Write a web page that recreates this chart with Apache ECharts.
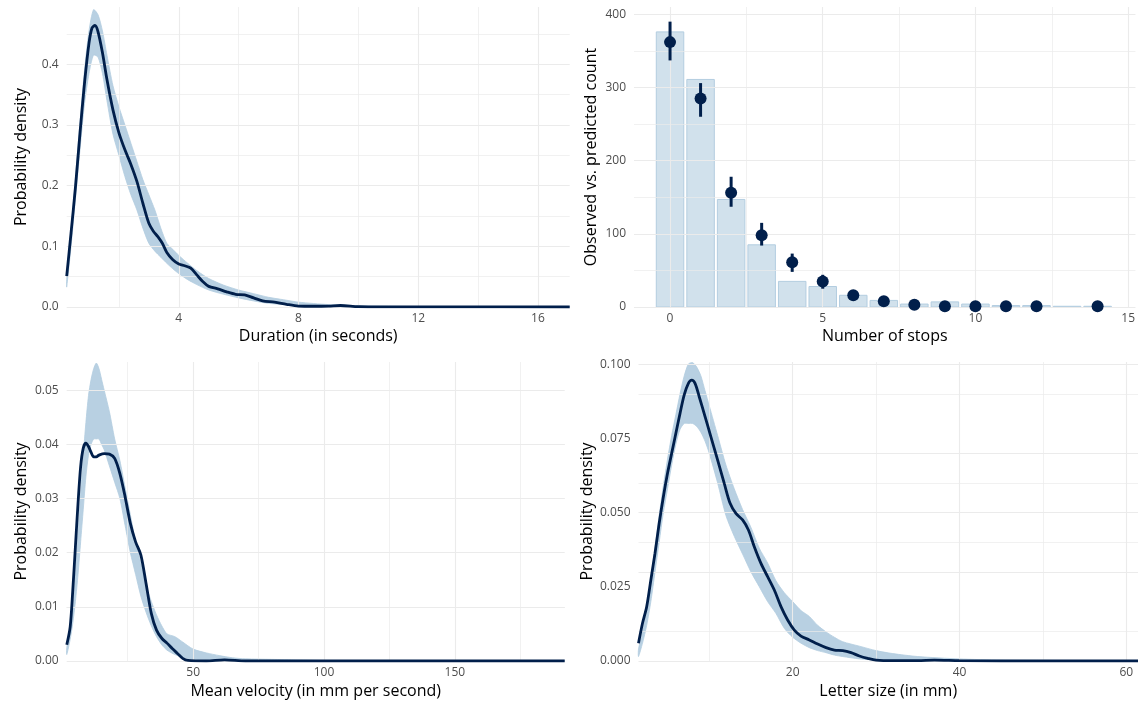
<!DOCTYPE html>
<html>
<head>
<meta charset="utf-8">
<script src="https://cdn.jsdelivr.net/npm/echarts@6/dist/echarts.min.js"></script>
<style>html,body{margin:0;padding:0;background:#fff}#c{width:1138px;height:702px}</style>
</head>
<body>
<div id="c"></div>
<script>
// ---------- Panel 1: Duration (in seconds) ----------
const durObsX = [0.255,0.4,0.55,0.7,0.85,1.0,1.1,1.2,1.3,1.45,1.6,1.8,2.0,2.2,2.4,2.6,2.8,3.0,3.15,3.3,3.45,3.6,3.8,4.0,4.2,4.4,4.6,4.8,5.0,5.3,5.6,5.9,6.2,6.5,6.8,7.2,7.6,8.0,8.5,9.0,9.4,10,11,13,17.06];
const durObsY = [0.051,0.122,0.199,0.287,0.369,0.435,0.46,0.464,0.454,0.419,0.375,0.325,0.287,0.259,0.235,0.207,0.171,0.138,0.125,0.116,0.105,0.090,0.078,0.071,0.068,0.064,0.053,0.042,0.034,0.030,0.025,0.021,0.020,0.015,0.010,0.008,0.0044,0.0016,0.0012,0.0015,0.0025,0.0006,0.0002,0.0001,0];
const durRepX  = [0.255,0.4,0.55,0.7,0.85,1.0,1.15,1.3,1.45,1.6,1.8,2.0,2.2,2.4,2.6,2.8,3.0,3.2,3.4,3.6,3.8,4.0,4.3,4.6,5.0,5.5,6.0,6.5,7.0,7.5,8.0,9.0,10,12,17.06];
const durRepHi = [0.045,0.125,0.215,0.305,0.39,0.455,0.49,0.482,0.455,0.415,0.365,0.33,0.30,0.27,0.24,0.21,0.185,0.16,0.13,0.105,0.095,0.085,0.072,0.06,0.047,0.036,0.028,0.022,0.016,0.012,0.008,0.004,0.002,0.0008,0.0002];
const durRepLo = [0.033,0.10,0.18,0.26,0.335,0.385,0.415,0.412,0.385,0.34,0.285,0.25,0.215,0.185,0.16,0.13,0.105,0.092,0.082,0.072,0.063,0.055,0.045,0.037,0.028,0.021,0.015,0.010,0.006,0.004,0.002,0.0005,0.0001,0,0];
const durXTicks = [4,8,12,16];
const durXMinor = [2,6,10,14];
const durYTicks = [0,0.1,0.2,0.3,0.4];
const durYMinor = [0.05,0.15,0.25,0.35,0.45];

// ---------- Panel 2: Number of stops ----------
const stopsX   = [0,1,2,3,4,5,6,7,8,9,10,11,12,13,14];
const stopsObs = [376,311,147,85,35,28,16,9,4,7,4,2,2,1,1];
const predX    = [0,1,2,3,4,5,6,7,8,9,10,11,12,14];
const predMed  = [362,285,156,98,61,35,16,8,3,1,1,1,1,1];
const predLo   = [337,260,137,84,48,25,10,4,1,0,0,0,0,0];
const predHi   = [390,306,178,115,73,44,22,13,7,3,3,3,3,3];
const stopsXTicks = [0,5,10,15];
const stopsXMinor = [2.5,7.5,12.5];
const stopsYTicks = [0,100,200,300,400];
const stopsYMinor = [50,150,250,350];

// ---------- Panel 3: Mean velocity ----------
const velObsX = [1.7,3,4,5,6,7,8,9,10,11,12,13,14,16,18,20,22,24,26,28,30,32,34,36,38,40,42,44,46,48,55,62,70,192];
const velObsY = [0.003,0.0063,0.0131,0.0211,0.0291,0.0359,0.0393,0.0402,0.0396,0.0385,0.0377,0.0377,0.038,0.0383,0.0382,0.0374,0.0346,0.0303,0.0254,0.022,0.0196,0.0143,0.0088,0.0057,0.0042,0.0033,0.0023,0.0014,0.0005,0.0001,0,0.0002,0,0];
const velRepX  = [1.7,3,4,5,6,7,8,9,10,11,12,13,14,15,16,18,20,22,24,26,28,30,32,34,36,38,40,43,46,50,55,60,65,70,80,90,100,120,192];
const velRepHi = [0.0025,0.006,0.011,0.017,0.024,0.031,0.038,0.044,0.049,0.052,0.054,0.055,0.054,0.052,0.050,0.046,0.041,0.037,0.032,0.027,0.022,0.018,0.014,0.011,0.0085,0.0065,0.005,0.0045,0.0035,0.0022,0.0015,0.001,0.0006,0.0004,0.0003,0.0002,0.0001,0.00005,0];
const velRepLo = [0.0012,0.004,0.007,0.011,0.016,0.022,0.028,0.034,0.038,0.040,0.041,0.041,0.041,0.040,0.039,0.036,0.033,0.030,0.025,0.020,0.016,0.012,0.009,0.0065,0.0045,0.003,0.002,0.0012,0.0007,0.0003,0.0001,0,0,0,0,0,0,0,0];
const velXTicks = [50,100,150];
const velXMinor = [25,75,125,175];
const velYTicks = [0,0.01,0.02,0.03,0.04,0.05];
const velYMinor = [0.005,0.015,0.025,0.035,0.045,0.055];

// ---------- Panel 4: Letter size ----------
const letObsX = [1.52,2.0,2.5,3.0,3.5,4.0,4.5,5.0,5.5,6.0,6.5,7.0,7.5,7.9,8.3,8.8,9.5,10.2,11,11.8,12.5,13.2,14,14.7,15.4,16.2,17,17.8,18.6,19.4,20.2,21,22,23,24,25,26,27,28,29,30,32,35,37,40,45,61.4];
const letObsY = [0.006,0.0127,0.0183,0.0273,0.0363,0.0464,0.0553,0.0632,0.070,0.0767,0.0834,0.0896,0.0935,0.0946,0.0935,0.089,0.0823,0.0755,0.0677,0.0598,0.0531,0.0497,0.0475,0.0441,0.0385,0.0329,0.0284,0.0239,0.0183,0.0138,0.0104,0.0084,0.0071,0.0057,0.0045,0.0037,0.0035,0.0028,0.0017,0.0009,0.0003,0.0001,0.0001,0.0003,0.0001,0,0];
const letRepX  = [1.52,2,2.5,3,3.5,4,4.5,5,5.5,6,6.5,7,7.5,8,8.5,9,9.5,10,11,12,13,14,15,16,17,18,19,20,21,22,23,24,25,26,28,30,32,35,40,45,50,61.4];
const letRepHi = [0.004,0.010,0.018,0.028,0.038,0.049,0.059,0.068,0.076,0.083,0.090,0.096,0.100,0.1005,0.099,0.096,0.091,0.086,0.076,0.066,0.058,0.051,0.045,0.038,0.033,0.027,0.023,0.020,0.017,0.015,0.012,0.0098,0.008,0.0065,0.005,0.0035,0.0025,0.0015,0.0007,0.0003,0.0002,0];
const letRepLo = [0.0015,0.006,0.012,0.020,0.030,0.040,0.050,0.058,0.066,0.073,0.078,0.080,0.080,0.080,0.079,0.077,0.074,0.070,0.060,0.049,0.042,0.036,0.030,0.025,0.020,0.016,0.011,0.008,0.006,0.0045,0.0035,0.0028,0.002,0.0015,0.0007,0.0003,0.0001,0,0,0,0,0];
const letXTicks = [20,40,60];
const letXMinor = [10,30,50];
const letYTicks = [0,0.025,0.05,0.075,0.1];
const letYMinor = [0.0125,0.0375,0.0625,0.0875];

// ---------- Styling ----------
const FONT = 'Open Sans';
const DARK = '#011f4b';
const REP = '#b3cde0';
const BAND = '#b8d0e2';
const GRID = '#ebebeb';
const BAR_HALF = 0.45;

const pairs = (xs, ys) => xs.map((x, i) => [x, ys[i]]);

function xAxisDef(gi, min, max, name, ticks, fmt) {
  return {
    type: 'value', gridIndex: gi, min: min, max: max,
    name: name, nameLocation: 'middle', nameGap: gi < 2 ? 21 : 22,
    nameTextStyle: {color: '#000', fontSize: 16, fontFamily: FONT},
    axisLine: {show: false}, axisTick: {show: false}, splitLine: {show: false},
    axisLabel: {customValues: ticks, color: '#4d4d4d', fontSize: 12, fontFamily: FONT, margin: 6,
      formatter: v => fmt(v)}
  };
}
function yAxisDef(gi, min, max, name, ticks, fmt, gap) {
  return {
    type: 'value', gridIndex: gi, min: min, max: max,
    name: name, nameLocation: 'middle', nameGap: gap,
    nameTextStyle: {color: '#000', fontSize: 16, fontFamily: FONT},
    axisLine: {show: false}, axisTick: {show: false}, splitLine: {show: false},
    axisLabel: {customValues: ticks, color: '#4d4d4d', fontSize: 12, fontFamily: FONT, margin: 8,
      formatter: v => fmt(v)}
  };
}
function gridSeries(gi, xMajor, xMinor, yMajor, yMinor, anchor) {
  const maj = {color: GRID, width: 1.1, type: 'solid'};
  const mnr = {color: GRID, width: 0.7, type: 'solid'};
  const data = [];
  xMinor.forEach(v => data.push({xAxis: v, lineStyle: mnr}));
  yMinor.forEach(v => data.push({yAxis: v, lineStyle: mnr}));
  xMajor.forEach(v => data.push({xAxis: v, lineStyle: maj}));
  yMajor.forEach(v => data.push({yAxis: v, lineStyle: maj}));
  return {
    type: 'line', xAxisIndex: gi, yAxisIndex: gi, z: 0, silent: true,
    data: [anchor], symbol: 'none', lineStyle: {width: 0, opacity: 0},
    markLine: {silent: true, symbol: ['none', 'none'], label: {show: false}, animation: false,
      emphasis: {disabled: true}, data: data}
  };
}
function densSeries(gi, repX, repLo, repHi, obsX, obsY) {
  return [
    {
      // envelope of the replicated densities, drawn as one polygon through the axis scales
      type: 'custom', xAxisIndex: gi, yAxisIndex: gi, z: 2, silent: true,
      data: [[repX[0], repLo[0]]], encode: {x: 0, y: 1},
      renderItem: (params, api) => {
        const pts = [];
        for (let i = 0; i < repX.length; i++) pts.push(api.coord([repX[i], repHi[i]]));
        for (let i = repX.length - 1; i >= 0; i--) pts.push(api.coord([repX[i], repLo[i]]));
        return {type: 'polygon', shape: {points: pts, smooth: 0.25},
          style: {fill: BAND, stroke: REP, lineWidth: 0.8}};
      }
    },
    {type: 'line', xAxisIndex: gi, yAxisIndex: gi, z: 5, smooth: 0.3,
      symbol: 'none', silent: true, data: pairs(obsX, obsY),
      lineStyle: {color: DARK, width: 2.8}}
  ];
}

const option = {
  animation: false,
  backgroundColor: '#ffffff',
  textStyle: {fontFamily: FONT},
  grid: [
    {left: 66.7, top: 7, width: 503, height: 300},
    {left: 634, top: 7, width: 504, height: 300},
    {left: 66.7, top: 362, width: 498, height: 299},
    {left: 638.5, top: 362, width: 499.5, height: 299}
  ],
  xAxis: [
    xAxisDef(0, 0.255, 17.06, 'Duration (in seconds)', durXTicks, v => String(v)),
    xAxisDef(1, -1.18, 15.24, 'Number of stops', stopsXTicks, v => String(v)),
    xAxisDef(2, 1.67, 192, 'Mean velocity (in mm per second)', velXTicks, v => String(v)),
    xAxisDef(3, 1.52, 61.4, 'Letter size (in mm)', letXTicks, v => String(v))
  ],
  yAxis: [
    yAxisDef(0, 0, 0.4945, 'Probability density', durYTicks, v => v.toFixed(1), 37),
    yAxisDef(1, 0, 410, 'Observed vs. predicted count', stopsYTicks, v => String(Math.round(v)), 35),
    yAxisDef(2, 0, 0.0552, 'Probability density', velYTicks, v => v.toFixed(2), 37),
    yAxisDef(3, 0, 0.1007, 'Probability density', letYTicks, v => v.toFixed(3), 43)
  ],
  series: [
    gridSeries(0, durXTicks, durXMinor, durYTicks, durYMinor, [durObsX[0], 0]),
    gridSeries(1, stopsXTicks, stopsXMinor, stopsYTicks, stopsYMinor, [stopsX[0], 0]),
    gridSeries(2, velXTicks, velXMinor, velYTicks, velYMinor, [velObsX[0], 0]),
    gridSeries(3, letXTicks, letXMinor, letYTicks, letYMinor, [letObsX[0], 0]),
    ...densSeries(0, durRepX, durRepLo, durRepHi, durObsX, durObsY),
    ...densSeries(2, velRepX, velRepLo, velRepHi, velObsX, velObsY),
    ...densSeries(3, letRepX, letRepLo, letRepHi, letObsX, letObsY),
    {
      type: 'custom', xAxisIndex: 1, yAxisIndex: 1, z: 2, silent: true,
      data: pairs(stopsX, stopsObs), encode: {x: 0, y: 1},
      renderItem: (params, api) => {
        const x = api.value(0), y = api.value(1);
        const a = api.coord([x - BAR_HALF, y]);
        const b = api.coord([x + BAR_HALF, 0]);
        return {type: 'rect', shape: {x: a[0], y: a[1], width: b[0] - a[0], height: b[1] - a[1]},
          style: {fill: '#d1e1ec', stroke: REP, lineWidth: 1}};
      }
    },
    {
      type: 'custom', xAxisIndex: 1, yAxisIndex: 1, z: 5, silent: true,
      data: predX.map((x, i) => [x, predLo[i], predHi[i]]), encode: {x: 0, y: [1, 2]},
      renderItem: (params, api) => {
        const x = api.value(0);
        const a = api.coord([x, api.value(1)]);
        const b = api.coord([x, api.value(2)]);
        return {type: 'line', shape: {x1: a[0], y1: a[1], x2: b[0], y2: b[1]},
          style: {stroke: DARK, lineWidth: 3}};
      }
    },
    {
      type: 'scatter', xAxisIndex: 1, yAxisIndex: 1, z: 6, silent: true,
      data: pairs(predX, predMed), symbol: 'circle', symbolSize: 12,
      itemStyle: {color: DARK, opacity: 1}
    }
  ]
};

const chart = echarts.init(document.getElementById('c'), null, {renderer: 'canvas'});
chart.setOption(option);
</script>
</body>
</html>
